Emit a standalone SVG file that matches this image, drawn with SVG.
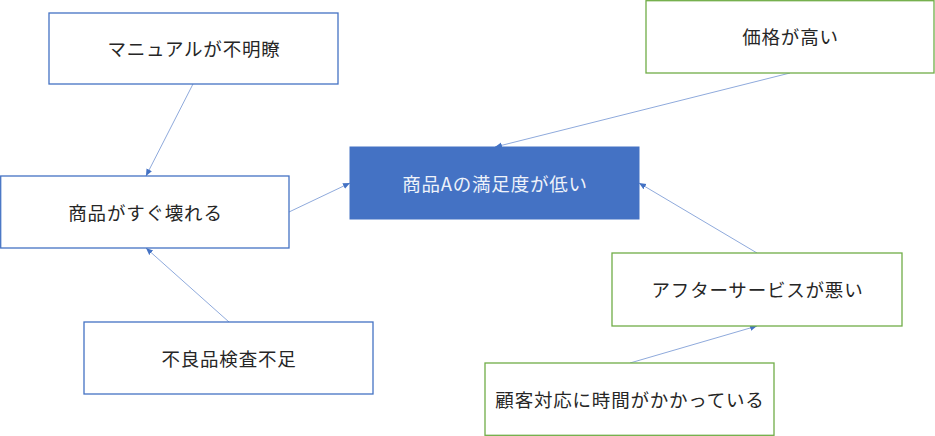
<svg xmlns="http://www.w3.org/2000/svg" width="935" height="436" viewBox="0 0 935 436">
<style>
.b{fill:#fff;stroke:#4472C4;stroke-width:1.3}
.g{fill:#fff;stroke:#70AD47;stroke-width:1.3}
.m{fill:#4472C4;stroke:#4472C4;stroke-width:1}
text{font-family:"Noto Sans CJK JP","Noto Sans",sans-serif;font-size:18.5px;letter-spacing:0.8px;text-anchor:middle;dominant-baseline:central;fill:#262626}
.w{fill:#EEF2FA}
.c{stroke:#8FAADC;stroke-width:1;fill:none;marker-end:url(#a)}
</style>
<defs>
<marker id="a" markerWidth="8" markerHeight="8" refX="7" refY="4" orient="auto" markerUnits="userSpaceOnUse">
<path d="M0,1 L7,4 L0,7 Z" fill="#4472C4"/>
</marker>
</defs>
<g id="connectors">
<line class="c" x1="193" y1="84" x2="146" y2="176"/>
<line class="c" x1="289" y1="212" x2="350" y2="183"/>
<line class="c" x1="790" y1="73" x2="495" y2="147"/>
<line class="c" x1="757" y1="253" x2="639" y2="183"/>
<line class="c" x1="630" y1="363" x2="757" y2="326"/>
<line class="c" x1="229" y1="322" x2="146" y2="248"/>
</g>
<g id="manual"><rect class="b" x="49" y="13" width="289" height="71"/><text x="194" y="48">マニュアルが不明瞭</text></g>
<g id="broken"><rect class="b" x="0.7" y="176" width="288.3" height="72"/><text x="145.5" y="212">商品がすぐ壊れる</text></g>
<g id="center"><rect class="m" x="350" y="147" width="289" height="72"/><text class="w" x="495" y="183">商品Aの満足度が低い</text></g>
<g id="price"><rect class="g" x="646" y="0.7" width="288" height="72.3"/><text x="790.5" y="36">価格が高い</text></g>
<g id="after"><rect class="g" x="612" y="253" width="290" height="73"/><text x="757.5" y="289">アフターサービスが悪い</text></g>
<g id="customer"><rect class="g" x="485" y="363" width="289" height="72.3"/><text x="630" y="399">顧客対応に時間がかかっている</text></g>
<g id="inspect"><rect class="b" x="84" y="322" width="289" height="72"/><text x="229" y="358">不良品検査不足</text></g>
</svg>
